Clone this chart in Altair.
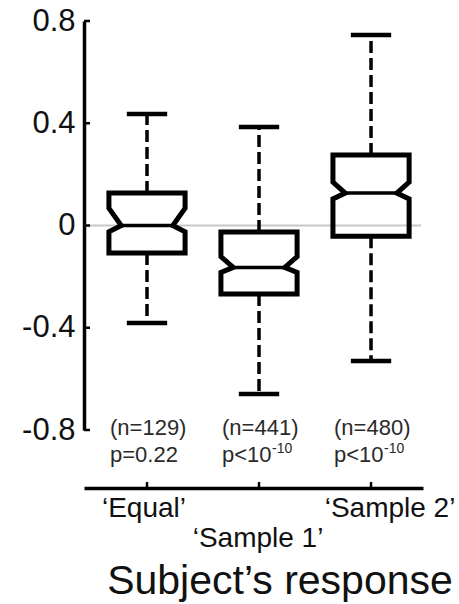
import altair as alt
import pandas as pd

# ---- data ----
categories = ["‘Equal’", "‘Sample 1’", "‘Sample 2’"]
positions = [1, 2, 3]
whisker_lo = [-0.381, -0.659, -0.530]
q1 = [-0.108, -0.268, -0.042]
notch_lo = [-0.025, -0.184, 0.104]
median = [0.000, -0.164, 0.127]
notch_hi = [0.068, -0.122, 0.170]
q3 = [0.127, -0.025, 0.276]
whisker_hi = [0.436, 0.385, 0.745]
n_labels = ["(n=129)", "(n=441)", "(n=480)"]
p_labels = ["p=0.22", "p<10", "p<10"]
p_exponents = ["", "-10", "-10"]
y_ticks = [-0.8, -0.4, 0, 0.4, 0.8]

FONT = "Liberation Sans"
HW = 0.34   # half box width (x units)
ND = 0.11   # notch indent (x units)
CAP = 0.18  # half cap width

stats = pd.DataFrame(dict(cat=categories, pos=positions, wlo=whisker_lo, q1=q1,
                          nlo=notch_lo, med=median, nhi=notch_hi, q3=q3, whi=whisker_hi,
                          n=n_labels, p=p_labels, pe=p_exponents))

rows = []
for i, c in enumerate(positions):
    verts = [(c, q3[i]), (c + HW, q3[i]), (c + HW, notch_hi[i]), (c + HW - ND, median[i]),
             (c + HW, notch_lo[i]), (c + HW, q1[i]), (c - HW, q1[i]), (c - HW, notch_lo[i]),
             (c - HW + ND, median[i]), (c - HW, notch_hi[i]), (c - HW, q3[i]), (c, q3[i])]
    for k, (vx, vy) in enumerate(verts):
        rows.append(dict(cat=categories[i], x=vx, y=vy, o=k))
poly = pd.DataFrame(rows)

xscale = alt.Scale(domain=[0.4375, 3.464], nice=False, zero=False)
yscale = alt.Scale(domain=[-0.8, 0.8], nice=False, zero=False)
xaxis = alt.Axis(values=positions, labels=False, ticks=False, grid=False, title=None,
                 domainWidth=3.5, domainColor="black", offset=58)
yaxis = alt.Axis(values=y_ticks, labelExpr="toString(datum.value)", ticks=False, grid=False,
                 title=None, domainWidth=3.5, domainColor="black", labelFontSize=31,
                 labelFont=FONT, labelColor="#111", labelPadding=9)

base = alt.Chart(stats)

zero_line = alt.Chart(pd.DataFrame({"v": [0]})).mark_rule(color="#c8c8c8", strokeWidth=2).encode(
    y=alt.Y("v:Q", scale=yscale, axis=yaxis), x=alt.value(0), x2=alt.value(337))

x_axis_holder = base.mark_point(opacity=0).encode(
    x=alt.X("pos:Q", scale=xscale, axis=xaxis), y=alt.Y("med:Q", scale=yscale, axis=yaxis))

yt = alt.Chart(pd.DataFrame({"v": y_ticks})).mark_rule(color="black", strokeWidth=2.5).encode(
    y=alt.Y("v:Q", scale=yscale, axis=yaxis), x=alt.value(0), x2=alt.value(6))

xt = base.mark_rule(color="black", strokeWidth=2.5).encode(
    x=alt.X("pos:Q", scale=xscale, axis=xaxis), y=alt.value(461), y2=alt.value(467))

dash = [12, 5]
w_up = base.mark_rule(color="black", strokeWidth=3.5, strokeDash=dash).encode(
    x=alt.X("pos:Q", scale=xscale, axis=xaxis), y=alt.Y("q3:Q", scale=yscale, axis=yaxis), y2="whi:Q")
w_dn = base.mark_rule(color="black", strokeWidth=3.5, strokeDash=dash).encode(
    x=alt.X("pos:Q", scale=xscale, axis=xaxis), y=alt.Y("q1:Q", scale=yscale, axis=yaxis), y2="wlo:Q")

caps = base.transform_calculate(cl=f"datum.pos - {CAP}", cr=f"datum.pos + {CAP}").transform_fold(
    ["whi", "wlo"], as_=["which", "yy"]).mark_rule(color="black", strokeWidth=4.5).encode(
    x=alt.X("cl:Q", scale=xscale, axis=xaxis), x2="cr:Q", y=alt.Y("yy:Q", scale=yscale, axis=yaxis))

boxes = alt.Chart(poly).mark_line(color="black", strokeWidth=5, strokeJoin="miter").encode(
    x=alt.X("x:Q", scale=xscale, axis=xaxis), y=alt.Y("y:Q", scale=yscale, axis=yaxis),
    order="o:Q", detail="cat:N")

med_line = base.transform_calculate(ml=f"datum.pos - {HW - ND}", mr=f"datum.pos + {HW - ND}").mark_rule(
    color="black", strokeWidth=3.5).encode(
    x=alt.X("ml:Q", scale=xscale, axis=xaxis), x2="mr:Q", y=alt.Y("med:Q", scale=yscale, axis=yaxis))

n_text = base.mark_text(font=FONT, fontSize=22, color="#2a2a2a", align="left", baseline="alphabetic", dx=-37).encode(
    x=alt.X("pos:Q", scale=xscale, axis=xaxis), y=alt.value(414), text="n:N")
p_text = base.mark_text(font=FONT, fontSize=22, color="#2a2a2a", align="left", baseline="alphabetic", dx=-37).encode(
    x=alt.X("pos:Q", scale=xscale, axis=xaxis), y=alt.value(441), text="p:N")
pe_text = base.mark_text(font=FONT, fontSize=14, color="#2a2a2a", align="left", baseline="alphabetic", dx=13).encode(
    x=alt.X("pos:Q", scale=xscale, axis=xaxis), y=alt.value(432), text="pe:N")

lab_eq = base.transform_filter(alt.datum.pos == 1).mark_text(
    font=FONT, fontSize=28, color="#111", align="center", baseline="alphabetic", dx=-3).encode(
    x=alt.X("pos:Q", scale=xscale, axis=xaxis), y=alt.value(496), text="cat:N")
lab_s1 = base.transform_filter(alt.datum.pos == 2).mark_text(
    font=FONT, fontSize=28, color="#111", align="center", baseline="alphabetic", dx=-1).encode(
    x=alt.X("pos:Q", scale=xscale, axis=xaxis), y=alt.value(526), text="cat:N")
lab_s2 = base.transform_filter(alt.datum.pos == 3).mark_text(
    font=FONT, fontSize=28, color="#111", align="center", baseline="alphabetic", dx=19).encode(
    x=alt.X("pos:Q", scale=xscale, axis=xaxis), y=alt.value(496), text="cat:N")

title = alt.Chart(pd.DataFrame({"t": ["Subject’s response"]})).mark_text(
    font=FONT, fontSize=41, color="#111", align="center", baseline="alphabetic").encode(
    x=alt.value(196), y=alt.value(573), text="t:N")

chart = alt.layer(zero_line, x_axis_holder, yt, xt, w_up, w_dn, caps, boxes, med_line,
                  n_text, p_text, pe_text, lab_eq, lab_s1, lab_s2, title).properties(
    width=339, height=409,
    autosize=alt.AutoSizeParams(type="none"),
    padding={"left": 84, "top": 21, "right": 36, "bottom": 174},
    background="white",
).configure_view(stroke=None)

chart.save("out.html", embed_options={"renderer": "svg", "actions": False})
